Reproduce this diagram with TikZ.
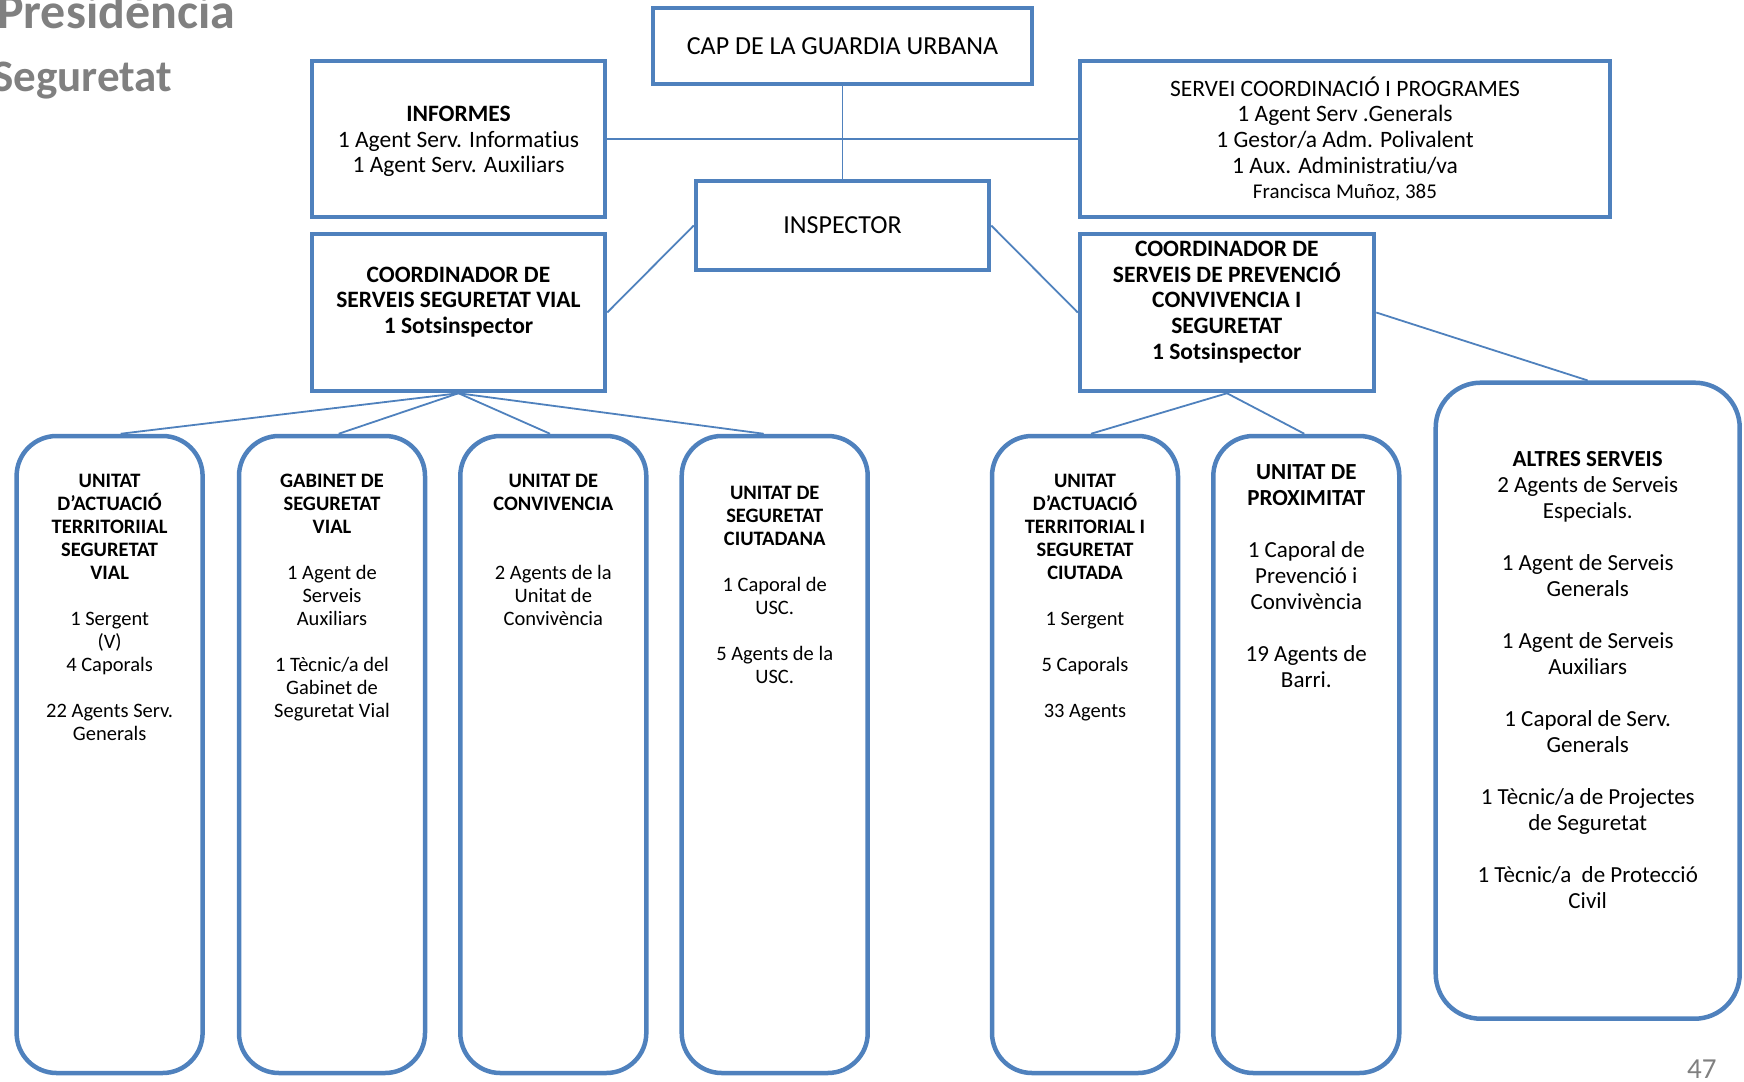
\documentclass[tikz,border=0pt]{standalone}
\usepackage{fontspec}
\setmainfont{Carlito}[Ligatures=NoCommon]
\usetikzlibrary{calc}
\definecolor{obox}{HTML}{4F81BD}
\definecolor{ogrey}{HTML}{808080}
\begin{document}
\begin{tikzpicture}[x=1pt,y=-1pt,
  sqbox/.style={draw=obox, line width=4.5pt, inner sep=0pt, align=center, text=black},
  rbox/.style={draw=obox, line width=4.5pt, rounded corners=40pt, inner sep=0pt, minimum width=186pt, minimum height=637pt},
  link/.style={draw=obox, line width=1.8pt},
  big/.style={font=\fontsize{23.5}{25.6}\selectfont},
  small/.style={font=\fontsize{20.5}{23}\selectfont},
  mid/.style={font=\fontsize{23}{26}\selectfont},
  lbl/.style={align=center, inner sep=0pt, anchor=north, text=black},
  grey/.style={text=ogrey, inner sep=0pt, anchor=base west}]
\useasboundingbox (0,0) rectangle (1744,1081);
\clip (0,0) rectangle (1744,1081);
% header texts
\node[grey, font=\fontsize{50}{52}\bfseries] (pres) at (-3,29) {Presidència};
\node[grey, font=\fontsize{45}{47}\bfseries] (seg) at (-8,92) {Seguretat};
\node[grey, font=\fontsize{29}{30}\selectfont] (pg) at (1687,1078) {47};
% top boxes
\node[sqbox, minimum width=379pt, minimum height=76pt, font=\fontsize{26}{28}\selectfont] (cap) at (842.5,46) {CAP DE LA GUARDIA URBANA};
\node[sqbox, minimum width=293pt, minimum height=156pt] (inf) at (458.5,139) {};
\node[lbl, anchor=center, big] (inflbl) at (458.5,141.5) {\textbf{INFORMES}\\1 Agent Serv. Informatius\\1 Agent Serv. Auxiliars};
\node[sqbox, minimum width=530pt, minimum height=156pt, big] (serv) at (1345,139) {SERVEI COORDINACIÓ I PROGRAMES\\1 Agent Serv .Generals\\1 Gestor/a Adm. Polivalent\\1 Aux. Administratiu/va\\{\fontsize{21}{25.6}\selectfont Francisca Muñoz, 385}};
\node[sqbox, minimum width=293pt, minimum height=89pt, font=\fontsize{26}{28}\selectfont] (insp) at (842.5,225.5) {INSPECTOR};
\node[sqbox, minimum width=293pt, minimum height=157pt] (cvial) at (458.5,312.5) {};
\node[lbl, anchor=center, big] (cviallbl) at (458.5,302) {\textbf{COORDINADOR DE}\\\textbf{SERVEIS SEGURETAT VIAL}\\\textbf{1 Sotsinspector}};
\node[sqbox, minimum width=294pt, minimum height=157pt] (cprev) at (1227,312.5) {};
\node[lbl, anchor=center, big] (cprevlbl) at (1226.8,302) {\textbf{COORDINADOR DE}\\\textbf{SERVEIS DE PREVENCIÓ}\\\textbf{CONVIVENCIA I}\\\textbf{SEGURETAT}\\\textbf{1 Sotsinspector}};
% bottom boxes
\node[rbox] (u1) at (109.6,754.5) {};
\node[rbox] (u2) at (332,754.5) {};
\node[rbox] (u3) at (553.3,754.5) {};
\node[rbox] (u4) at (774.7,754.5) {};
\node[rbox] (u5) at (1085,754.5) {};
\node[rbox] (u6) at (1306.3,754.5) {};
\node[rbox, minimum width=304pt, minimum height=636pt, rounded corners=45pt] (alt) at (1587.7,700.7) {};
% bottom labels
\node[lbl, small] (t1) at (109.6,474) {\textbf{UNITAT}\\\textbf{D’ACTUACIÓ}\\\textbf{TERRITORIIAL}\\\textbf{SEGURETAT}\\\textbf{VIAL}\\[23pt]1 Sergent\\(V)\\4 Caporals\\[23pt]22 Agents Serv.\\Generals};
\node[lbl, small] (t2) at (332,474) {\textbf{GABINET DE}\\\textbf{SEGURETAT}\\\textbf{VIAL}\\[23pt]1 Agent de\\Serveis\\Auxiliars\\[23pt]1 Tècnic/a del\\Gabinet de\\Seguretat Vial};
\node[lbl, small] (t3) at (553.3,474) {\textbf{UNITAT DE}\\\textbf{CONVIVENCIA}\\[46pt]2 Agents de la\\Unitat de\\Convivència};
\node[lbl, small] (t4) at (774.7,486) {\textbf{UNITAT DE}\\\textbf{SEGURETAT}\\\textbf{CIUTADANA}\\[23pt]1 Caporal de\\USC.\\[23pt]5 Agents de la\\USC.};
\node[lbl, small] (t5) at (1085,474) {\textbf{UNITAT}\\\textbf{D’ACTUACIÓ}\\\textbf{TERRITORIAL I}\\\textbf{SEGURETAT}\\\textbf{CIUTADA}\\[23pt]1 Sergent\\[23pt]5 Caporals\\[23pt]33 Agents};
\node[lbl, mid] (t6) at (1306.3,464) {\textbf{UNITAT DE}\\\textbf{PROXIMITAT}\\[26pt]1 Caporal de\\Prevenció i\\Convivència\\[26pt]19 Agents de\\Barri.};
\node[lbl, mid] (t7) at (1587.7,451) {\textbf{ALTRES SERVEIS}\\2 Agents de Serveis\\Especials.\\[26pt]1 Agent de Serveis\\Generals\\[26pt]1 Agent de Serveis\\Auxiliars\\[26pt]1 Caporal de Serv.\\Generals\\[26pt]1 Tècnic/a de Projectes\\de Seguretat\\[26pt]1 Tècnic/a\ \ de Protecció\\Civil};
% connectors
\draw[link] (cap.south) -- (insp.north);
\draw[link] (inf.east) -- (serv.west);
\draw[link] (insp.west) -- (cvial.east);
\draw[link] (insp.east) -- (cprev.west);
\draw[link] (cvial.south) -- ($(u1.north)+(11,0)$);
\draw[link] (cvial.south) -- ($(u2.north)+(6.7,0)$);
\draw[link] (cvial.south) -- ($(u3.north)+(-3.3,0)$);
\draw[link] (cvial.south) -- ($(u4.north)+(-11,0)$);
\draw[link] (cprev.south) -- ($(u5.north)+(6,0)$);
\draw[link] (cprev.south) -- ($(u6.north)+(-2,0)$);
\draw[link] (cprev.east) -- (alt.north);
\end{tikzpicture}
\end{document}
